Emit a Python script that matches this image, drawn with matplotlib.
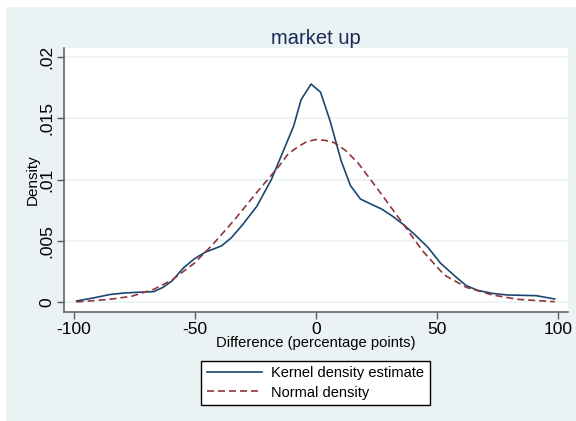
import matplotlib.pyplot as plt
from matplotlib.patches import Rectangle

plt.rcParams['font.family'] = ['Liberation Sans', 'DejaVu Sans']

# kernel density estimate
kde_x = [-98.9, -91.3, -85.3, -79.2, -73.1, -67.0, -63.2, -59.5, -54.9, -50.3,
         -45.8, -39.0, -34.9, -30.6, -24.5, -18.5, -13.9, -9.3, -6.2, -2.1,
         1.8, 5.8, 10.4, 14.2, 18.3, 22.6, 27.1, 31.7, 36.2, 40.8,
         46.1, 51.4, 57.5, 62.0, 66.6, 72.7, 78.7, 84.8, 90.9, 98.5]
kde_y = [0.00011, 0.00038, 0.00063, 0.00076, 0.00082, 0.00087, 0.00122, 0.00174, 0.00278, 0.00354,
         0.00408, 0.00460, 0.00528, 0.00626, 0.00781, 0.00999, 0.01216, 0.01434, 0.01650, 0.01777,
         0.01712, 0.01475, 0.01148, 0.00950, 0.00841, 0.00800, 0.00759, 0.00699, 0.00631, 0.00550,
         0.00449, 0.00318, 0.00210, 0.00136, 0.00098, 0.00073, 0.00060, 0.00057, 0.00054, 0.00027]

# normal density
norm_x = [-98.9, -85.3, -76.2, -67.0, -59.5, -50.3, -42.8, -33.7, -24.5, -15.4,
          -11.5, -7.8, -4.0, -0.2, 4.0, 7.4, 12.0, 17.3, 25.6, 34.7,
          43.8, 52.9, 62.0, 72.7, 83.3, 98.5]
norm_y = [0.00003, 0.00024, 0.00049, 0.00106, 0.00182, 0.00318, 0.00468, 0.00672, 0.00895, 0.01107,
          0.01210, 0.01262, 0.01307, 0.01325, 0.01318, 0.01300, 0.01239, 0.01135, 0.00917, 0.00672,
          0.00422, 0.00223, 0.00122, 0.00060, 0.00024, 0.00005]

x_ticks = [-100, -50, 0, 50, 100]
y_ticks = [0, 0.005, 0.01, 0.015, 0.02]
y_labels = ['0', '.005', '.01', '.015', '.02']

bg = '#EAF2F3'
navy = '#1A476F'
maroon = '#90353B'
axcol = '#5a5a5a'

fig = plt.figure(figsize=(5.76, 4.21), dpi=100, facecolor=bg)
# thin white strips on the left and top, like the reference
fig.add_artist(Rectangle((0, 0), 6/576, 1, transform=fig.transFigure,
                         facecolor='white', edgecolor='none', zorder=-5))
fig.add_artist(Rectangle((0, 1 - 7/421), 1, 7/421, transform=fig.transFigure,
                         facecolor='white', edgecolor='none', zorder=-5))

ax = fig.add_axes([64/576, 1 - 312.3/421, 504/576, 264.6/421])
ax.set_facecolor('white')

ax.plot(kde_x, kde_y, color=navy, lw=1.2, label='Kernel density estimate')
ax.plot(norm_x, norm_y, color=maroon, lw=1.2, dashes=(4.2, 2.4), label='Normal density')

ax.set_xlim(-104.1, 104.0)
ax.set_ylim(-0.000814, 0.020733)
ax.set_xticks(x_ticks)
ax.set_xticklabels([str(v) for v in x_ticks], fontsize=12.5)
ax.set_yticks(y_ticks)
ax.set_yticklabels(y_labels, fontsize=12.5, rotation=90, va='center')
ax.grid(axis='y', color=bg, lw=1.2)
ax.set_axisbelow(True)

for s in ['top', 'right']:
    ax.spines[s].set_visible(False)
for s in ['left', 'bottom']:
    ax.spines[s].set_color(axcol)
    ax.spines[s].set_linewidth(1.1)
ax.tick_params(colors=axcol, length=5, width=1, labelcolor='black', pad=2)

ax.set_xlabel('Difference (percentage points)', fontsize=10.6, labelpad=-1)
ax.set_ylabel('Density', fontsize=11, labelpad=0)
ax.set_title('market up', fontsize=14.5, color='#1a2a5a', pad=3)

leg = fig.legend(loc='center', bbox_to_anchor=(315.3/576, 1 - 383/421), fontsize=10.5,
                 frameon=True, fancybox=False, edgecolor='black', framealpha=1,
                 handlelength=3.8, handletextpad=0.6, borderpad=0.4, labelspacing=0.35,
                 borderaxespad=0)
leg.get_frame().set_linewidth(1)

fig.savefig('out.png', dpi=100, facecolor=bg)
